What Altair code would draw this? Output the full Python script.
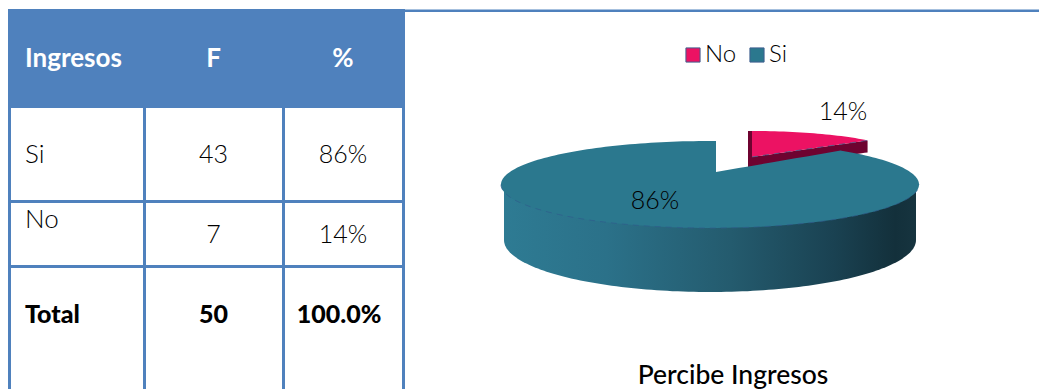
import math
import numpy as np
import pandas as pd
import altair as alt

# ---- data
HEADERS = ["Ingresos", "F", "%"]
CATEGORIES = ["Si", "No"]
FREQUENCIES = [43, 7]
PERCENTS = [86, 14]
TOTAL_LABEL = "Total"
TOTAL_F = 50
TOTAL_PCT = "100.0%"
TITLE = "Percibe Ingresos"

# ---- layout (page pixels)
W, H = 1039, 389
BLUE = "#4F81BD"
TEAL = "#2B788E"
PINK = "#EC1263"
DARK = "#6E0330"
SEAM = "#2F5C8C"
LIGHT = "Lato Light, Lato"
FONT = "Lato"

X = alt.Scale(domain=[8, W], range=[0, W - 8], nice=False, zero=False)
Y = alt.Scale(domain=[8, H], range=[0, H - 8], nice=False, zero=False)


def xe(f):
    return alt.X(f, type="quantitative", scale=X, axis=None)


def ye(f):
    return alt.Y(f, type="quantitative", scale=Y, axis=None)


def text_layer(rows, **style):
    df = pd.DataFrame(rows, columns=["t", "x", "y"])
    return alt.Chart(df).mark_text(baseline="alphabetic", **style).encode(
        x=xe("x"), y=ye("y"), text=alt.Text("t:N")
    )


def rects(rows, color):
    df = pd.DataFrame(rows, columns=["x", "x2", "y", "y2"])
    return alt.Chart(df).mark_rect(color=color).encode(
        x=xe("x"), x2=alt.X2("x2"), y=ye("y"), y2=alt.Y2("y2")
    )


# table frame
COLS = [8, 143, 282, 402]
RULE = 3
frame = [
    (8, 405, 9, 108),
    (405, W, 9.5, 12),
] + [(c, c + RULE, 108, H) for c in COLS] + [
    (8, 405, 200, 203),
    (8, 405, 265, 268),
]
table_bg = rects(frame, BLUE)

COL_F = 213.5
COL_P = 343
ROW_Y = [163, 243, 323]
head = text_layer(
    [(HEADERS[0], 25, 67)], font=FONT, fontWeight="bold", fontSize=26, color="white", align="left"
) + text_layer(
    [(HEADERS[1], COL_F, 67), (HEADERS[2], COL_P, 67)],
    font=FONT, fontWeight="bold", fontSize=26, color="white", align="center",
)
body_left = text_layer(
    [(CATEGORIES[0], 25, ROW_Y[0]), (CATEGORIES[1], 25, 228)],
    font=LIGHT, fontSize=26, color="#000000", align="left",
)
body_center = text_layer(
    [(str(FREQUENCIES[0]), COL_F, ROW_Y[0]), (f"{PERCENTS[0]}%", COL_P, ROW_Y[0]),
     (str(FREQUENCIES[1]), COL_F, ROW_Y[1]), (f"{PERCENTS[1]}%", COL_P, ROW_Y[1])],
    font=LIGHT, fontSize=25, color="#000000", align="center",
)
total = text_layer(
    [(TOTAL_LABEL, 25, ROW_Y[2])], font=FONT, fontWeight=900, fontSize=25, color="black", align="left"
) + text_layer(
    [(str(TOTAL_F), COL_F, ROW_Y[2]), (TOTAL_PCT, 339, ROW_Y[2])],
    font=FONT, fontWeight=900, fontSize=25, color="black", align="center",
)

# ---- pie geometry, derived from the percentages
CX, CY, RX, RY = 710, 184.5, 209, 43.5
AX, AY = 716, 172
WALL_RX, WALL_CY, WALL_RY = 206, 240, 52
THETA = math.radians(3.6 * PERCENTS[1])


def top(x):
    return CY - RY * np.sqrt(np.clip(1 - ((x - CX) / RX) ** 2, 0, 1))


def bottom(x):
    return CY + RY * np.sqrt(np.clip(1 - ((x - CX) / RX) ** 2, 0, 1))


# where the edge of the 14% sector meets the rim
dx, dy = RX * math.sin(THETA), -RY * math.cos(THETA)
px, py = (AX - CX) / RX, (AY - CY) / RY
qx, qy = dx / RX, dy / RY
a, b, c = qx**2 + qy**2, 2 * (px * qx + py * qy), px**2 + py**2 - 1
t_hit = (-b + math.sqrt(b * b - 4 * a * c)) / (2 * a)
HX = AX + dx * t_hit

ang = np.linspace(0, np.pi, 121)
xs = CX - RX * np.cos(ang)
x_left = np.append(xs[xs < AX], AX)
x_ray = np.linspace(AX, HX, 12)
x_right = np.append(HX, xs[xs > HX])
si_x = np.concatenate([x_left, x_ray, x_right])
si_y = np.concatenate([
    top(x_left),
    AY + (x_ray - AX) / dx * dy,
    top(x_right),
])
si_face = pd.DataFrame({"x": si_x, "y": si_y, "y2": bottom(si_x), "cat": CATEGORIES[0]})
rim = pd.DataFrame({"x": xs, "y": bottom(xs)})

wang = np.linspace(0, np.pi, 121)
wx = CX - WALL_RX * np.cos(wang)
si_wall = pd.DataFrame({"x": wx, "y": CY, "y2": WALL_CY + WALL_RY * np.sin(wang)})

# the pulled-out 14% sector
BX, BY, BR, Br = 752, 157, 150, 26
SIDE = 12
th = np.linspace(0, THETA, 30)
nx = BX + BR * np.sin(th)
ny = BY - Br * np.cos(th)
tip_x, tip_y = nx[-1], ny[-1]
edge = BY + (nx - BX) / (tip_x - BX) * (tip_y - BY)
no_face = pd.DataFrame({"x": nx, "y": ny, "y2": edge, "cat": CATEGORIES[1]})
no_side = pd.DataFrame({"x": nx, "y": edge, "y2": edge + SIDE})
no_left = pd.DataFrame({"x": [BX - 4, BX], "y": [BY - Br, BY - Br], "y2": [BY + SIDE + 2, BY + SIDE]})
no_seam = pd.DataFrame({"x": nx, "y": edge})

wall_grad = alt.Gradient(
    gradient="linear", x1=0, x2=1, y1=0, y2=0,
    stops=[
        alt.GradientStop(color="#2E7B93", offset=0),
        alt.GradientStop(color="#2B7189", offset=0.25),
        alt.GradientStop(color="#245B6E", offset=0.55),
        alt.GradientStop(color="#1A4252", offset=0.8),
        alt.GradientStop(color="#13303B", offset=0.95),
        alt.GradientStop(color="#16343F", offset=1),
    ],
)

color_scale = alt.Scale(domain=[CATEGORIES[1], CATEGORIES[0]], range=[PINK, TEAL])
legend = alt.Legend(
    orient="none", legendX=673, legendY=35, direction="horizontal", title=None,
    labelFont=LIGHT, labelFontSize=24, labelColor="#000000", symbolType="square",
    symbolSize=200, symbolStrokeColor="#3F5F8F", symbolStrokeWidth=1, columnPadding=8, labelOffset=0,
    symbolOpacity=1,
)


def plain(df, **kw):
    return alt.Chart(df).mark_area(orient="vertical", **kw).encode(
        x=xe("x"), y=ye("y"), y2=alt.Y2("y2"))


def face(df):
    return alt.Chart(df).mark_area(orient="vertical").encode(
        x=xe("x"), y=ye("y"), y2=alt.Y2("y2"),
        color=alt.Color("cat:N", scale=color_scale, legend=legend))


def seam(df):
    return alt.Chart(df).mark_line(color=SEAM, strokeWidth=1, strokeDash=[6, 5], opacity=0.7).encode(
        x=xe("x"), y=ye("y"))


labels = text_layer(
    [(f"{PERCENTS[1]}%", 843, 120), (f"{PERCENTS[0]}%", 655, 209)],
    font=LIGHT, fontSize=25, color="#000000", align="center",
)
title = text_layer([(TITLE, 733, 384)], font=FONT, fontWeight=500, fontSize=26.5, color="black", align="center")

chart = (
    alt.layer(
        table_bg, head, body_left, body_center, total,
        plain(no_left, color=DARK), plain(no_side, color=DARK), face(no_face), seam(no_seam),
        plain(si_wall, fill=wall_grad), face(si_face), seam(rim),
        labels, title,
    )
    .resolve_scale(color="shared")
    .properties(width=W - 8, height=H - 8, padding=0, background="white")
    .configure_view(stroke=None)
)
chart.save("out.html", embed_options={"renderer": "svg", "actions": False})
